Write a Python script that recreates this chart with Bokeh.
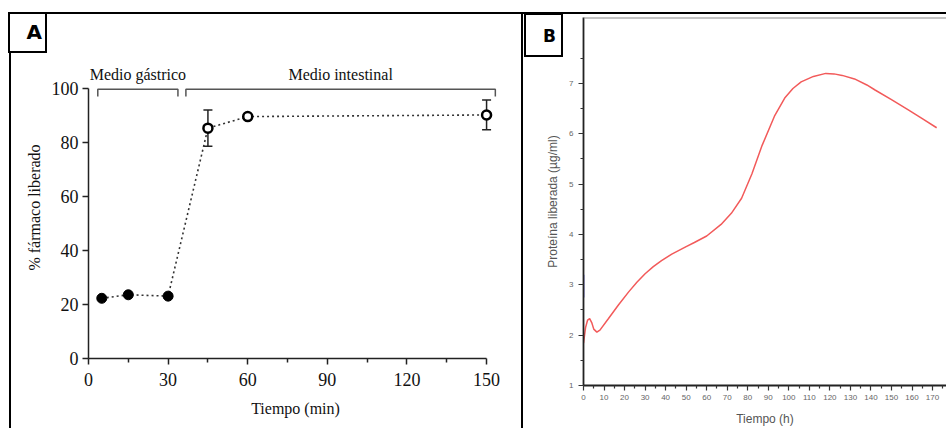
from bokeh.plotting import figure
from bokeh.models import (ColumnDataSource, Whisker, TeeHead, FixedTicker, Span, Div)
from bokeh.embed import file_html
from bokeh.resources import INLINE
from bokeh.core.properties import value

# ---------------- Panel A data ----------------
gastric_t = [5, 15, 30]
gastric_pct = [22.3, 23.6, 23.1]
intest_t = [45, 60, 150]
intest_pct = [85.3, 89.6, 90.2]
intest_err = [6.7, 0.0, 5.5]
phase_names = ["Medio gástrico", "Medio intestinal"]
phase_start = [3.5, 36.7]
phase_end = [33.7, 153.3]
a_xticks = [0, 30, 60, 90, 120, 150]
a_xminor = [15, 45, 75, 105, 135]
a_yticks = [0, 20, 40, 60, 80, 100]

# ---------------- Panel B data ----------------
b_t = [0, 1, 2, 3, 4, 5, 6.5, 8, 12, 17, 22, 26, 30, 34, 38, 43, 50, 54, 60, 67, 72, 77,
       82, 87, 93, 98, 102, 106, 112, 118, 122, 126, 132, 138, 142, 150, 158, 165, 172]
b_v = [1.84, 2.15, 2.3, 2.33, 2.25, 2.12, 2.06, 2.1, 2.32, 2.6, 2.86, 3.05, 3.22, 3.36,
       3.48, 3.61, 3.76, 3.84, 3.97, 4.2, 4.42, 4.72, 5.2, 5.77, 6.35, 6.71, 6.9, 7.03,
       7.14, 7.2, 7.19, 7.16, 7.09, 6.97, 6.87, 6.68, 6.48, 6.3, 6.12]
b_blue_t = [0, 0]
b_blue_v = [2.75, 3.2]
b_xticks = list(range(0, 180, 10))
b_xminor = list(range(5, 180, 10))
b_yticks = [1, 2, 3, 4, 5, 6, 7]
b_yminor = [1.5, 2.5, 3.5, 4.5, 5.5, 6.5, 7.5]

SERIF = "Liberation Serif"
SANS = "Liberation Sans"
H = 428


def place(left, top):
    return {"position": "absolute", "left": f"{left}px", "top": f"{top}px"}


# ================= Panel A =================
pa = figure(width=521, height=H, x_range=(0, 156), y_range=(0, 111.85),
            output_backend="svg", toolbar_location=None,
            min_border_left=88, min_border_right=19, min_border_top=56,
            min_border_bottom=70, styles=place(0, 0))
pa.outline_line_color = None
pa.grid.visible = False
pa.background_fill_color = "white"
pa.border_fill_color = "white"

all_t = gastric_t + intest_t
all_pct = gastric_pct + intest_pct
pa.line(all_t, all_pct, line_dash="2 3", line_width=1.6, line_color="#333333")

err_src = ColumnDataSource(dict(
    base=[t for t, e in zip(intest_t, intest_err) if e > 0],
    upper=[v + e for v, e in zip(intest_pct, intest_err) if e > 0],
    lower=[v - e for v, e in zip(intest_pct, intest_err) if e > 0],
))
pa.add_layout(Whisker(source=err_src, base="base", upper="upper", lower="lower",
                      dimension="height", line_width=1.5, line_color="#222222",
                      upper_head=TeeHead(size=9, line_width=1.5, line_color="#222222"),
                      lower_head=TeeHead(size=9, line_width=1.5, line_color="#222222")))

pa.scatter(gastric_t, gastric_pct, size=10, fill_color="black", line_color="black")
pa.scatter(intest_t, intest_pct, size=9, fill_color="white", line_color="black",
           line_width=2.5)

br_top, br_drop = 99.7, 2.7
pa.multi_line([[s, s, e, e] for s, e in zip(phase_start, phase_end)],
              [[br_top - br_drop, br_top, br_top, br_top - br_drop] for _ in phase_start],
              line_color="#555555", line_width=1.5)
pa.text([(s + e) / 2 for s, e in zip(phase_start, phase_end)], [105] * len(phase_names),
        text=phase_names, text_font=value(SERIF), text_font_size="16px",
        text_align="center", text_baseline="middle", text_color="#111111")

xa, ya = pa.xaxis[0], pa.yaxis[0]
xa.ticker = FixedTicker(ticks=a_xticks, minor_ticks=a_xminor)
ya.ticker = FixedTicker(ticks=a_yticks, minor_ticks=[])
xa.bounds = (0, 150)
ya.bounds = (0, 100)
xa.axis_label = "Tiempo (min)"
ya.axis_label = "% fármaco liberado"
for ax in (xa, ya):
    ax.axis_line_width = 1.5
    ax.axis_line_color = "#222222"
    ax.major_tick_line_width = 1.5
    ax.major_tick_line_color = "#222222"
    ax.minor_tick_line_width = 1.5
    ax.minor_tick_line_color = "#222222"
    ax.major_tick_in = 0
    ax.major_tick_out = 6
    ax.minor_tick_in = 0
    ax.minor_tick_out = 4
    ax.major_label_text_font = SERIF
    ax.major_label_text_font_size = "18px"
    ax.major_label_text_color = "#111111"
    ax.axis_label_text_font = SERIF
    ax.axis_label_text_font_size = "16px"
    ax.axis_label_text_font_style = "normal"
    ax.axis_label_text_color = "#111111"
xa.major_label_standoff = 8
xa.axis_label_standoff = 11
ya.major_label_standoff = 4
ya.axis_label_standoff = 6

# ================= Panel B =================
pb = figure(width=423, height=H, x_range=(0, 176.8), y_range=(1, 8.31),
            output_backend="svg", toolbar_location=None,
            min_border_left=60, min_border_right=0, min_border_top=17,
            min_border_bottom=38, styles=place(523, 0))
pb.outline_line_color = None
pb.grid.visible = False
pb.background_fill_color = "white"
pb.border_fill_color = "white"

pb.add_layout(Span(location=8.31, dimension="width", line_color="#8a8a8a",
                   line_width=2))
pb.line(b_t, b_v, line_color="#f25a5a", line_width=1.5)
pb.line(b_blue_t, b_blue_v, line_color="#3a3adf", line_width=1.6)

xb, yb = pb.xaxis[0], pb.yaxis[0]
xb.ticker = FixedTicker(ticks=b_xticks, minor_ticks=b_xminor)
yb.ticker = FixedTicker(ticks=b_yticks, minor_ticks=b_yminor)
xb.axis_label = "Tiempo (h)"
yb.axis_label = "Proteína liberada (µg/ml)"
for ax in (xb, yb):
    ax.axis_line_width = 1.8
    ax.axis_line_color = "#222222"
    ax.major_tick_line_width = 1.2
    ax.major_tick_line_color = "#333333"
    ax.minor_tick_line_width = 1.2
    ax.minor_tick_line_color = "#333333"
    ax.major_tick_in = 0
    ax.major_tick_out = 5
    ax.minor_tick_in = 0
    ax.minor_tick_out = 3
    ax.major_label_text_font = SANS
    ax.major_label_text_font_size = "8px"
    ax.major_label_text_color = "#666666"
    ax.axis_label_text_font = SANS
    ax.axis_label_text_font_size = "12px"
    ax.axis_label_text_font_style = "normal"
    ax.axis_label_text_color = "#555555"
xb.major_label_standoff = 4
xb.axis_label_standoff = 9
yb.major_label_standoff = 5
yb.axis_label_standoff = 6

# ================= Panel frames and letters =================
frame_a = Div(text="", width=514, height=416, margin=0,
              styles={**place(9, 12), "box-sizing": "border-box",
                      "border-left": "2.5px solid black", "border-top": "2.5px solid black",
                      "border-right": "2.5px solid black", "pointer-events": "none"})
frame_b = Div(text="", width=425, height=416, margin=0,
              styles={**place(521, 12), "box-sizing": "border-box",
                      "border-left": "2px solid black", "border-top": "2px solid black",
                      "pointer-events": "none"})
letter_style = {"box-sizing": "border-box", "border": "2px solid black",
                "background": "white", "font-family": "DejaVu Sans",
                "font-weight": "bold", "color": "black", "text-align": "right",
                "padding-right": "3px"}
box_a = Div(text="A", width=39, height=41, margin=0,
            styles={**place(8, 12), **letter_style, "font-size": "20px",
                    "line-height": "37px"})
box_b = Div(text="B", width=39, height=44, margin=0,
            styles={**place(524, 13), **letter_style, "font-size": "17px",
                    "line-height": "42px", "padding-right": "5px"})

open("out.html", "w").write(file_html([pa, pb, frame_a, frame_b, box_a, box_b], INLINE))
